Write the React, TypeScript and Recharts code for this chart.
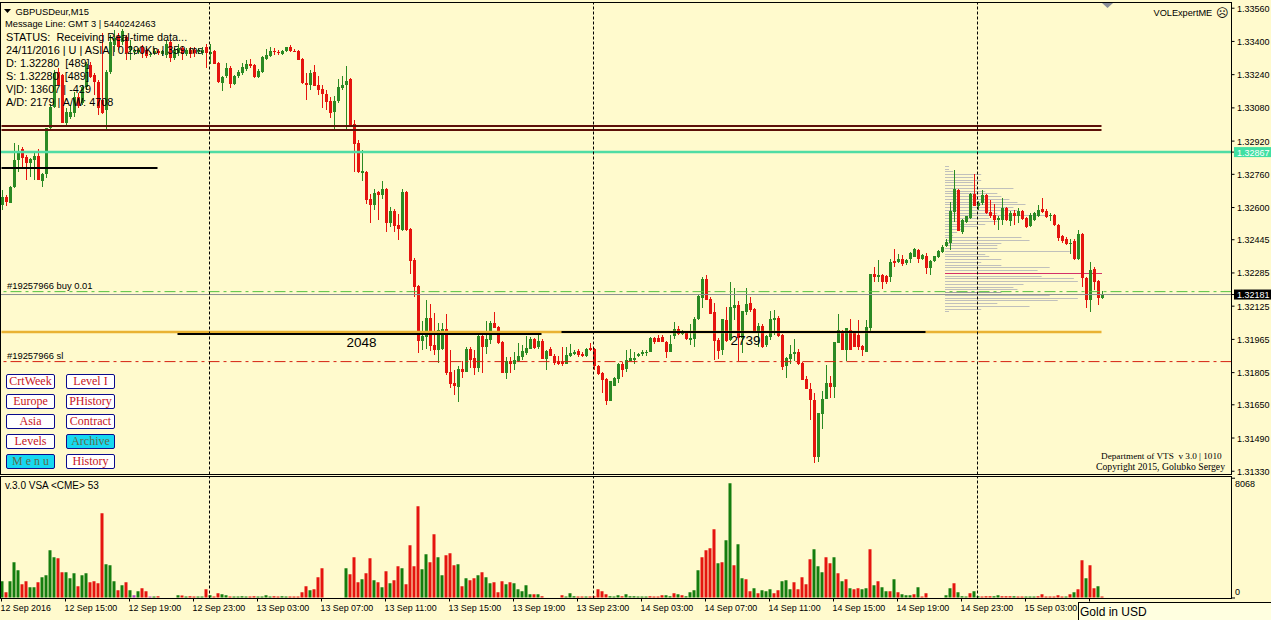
import { ComposedChart, BarChart, Bar, XAxis, YAxis, Cell, ReferenceLine } from 'recharts'

// prices are in points above 1.30000, one row of ten bars per line
const opens = [
  2611,2650,2621,2698,2828,2881,2842,2813,2828,2847,
  2727,2761,2982,3083,3252,3237,3006,3035,3054,3131,
  3102,3179,3285,3237,3204,3117,3069,3252,3382,3425,
  3396,3420,3358,3348,3348,3372,3358,3334,3343,3353,
  3339,3334,3396,3320,3343,3367,3339,3358,3358,3348,
  3343,3372,3339,3353,3295,3199,3233,3271,3194,3233,
  3247,3266,3291,3285,3228,3252,3314,3329,3353,3348,
  3339,3353,3372,3353,3353,3314,3199,3189,3252,3189,
  3170,3146,3112,3059,3112,3175,3189,3218,3002,2910,
  2766,2770,2640,2611,2674,2659,2689,2525,2582,2515,
  2491,2674,2496,2346,2221,1956,1975,2067,1937,1913,
  1918,2014,1807,1754,1735,1822,1807,1918,1875,1827,
  1980,1928,1961,2043,2024,1952,1803,1860,1846,1860,
  1879,1899,1918,1966,1928,1956,1870,1918,1884,1860,
  1855,1846,1884,1894,1908,1894,1884,1923,1918,1836,
  1803,1773,1667,1740,1773,1846,1822,1860,1865,1884,
  1894,1899,1904,1970,1970,1975,1952,1904,1980,2014,
  1990,1995,1961,1966,2062,2163,2255,2159,2096,1961,
  1913,2057,1961,2115,2129,1970,2096,2139,2110,2000,
  2028,1937,1975,2057,2067,1985,1836,1870,1894,1904,
  1850,1773,1725,1672,1397,1605,1677,1754,1735,1947,
  2004,1913,2009,2000,1985,1932,1904,2019,2279,2264,
  2274,2269,2264,2342,2337,2351,2332,2351,2361,2395,
  2351,2366,2308,2342,2361,2385,2414,2428,2578,2684,
  2481,2529,2549,2664,2607,2621,2659,2578,2563,2539,
  2539,2597,2534,2573,2558,2582,2549,2510,2539,2558,
  2592,2582,2558,2563,2515,2462,2448,2423,2438,2351,
  2472,2259,2154,2303,2245,2163,
]
const highs = [
  2684,2660,2703,2910,2900,2890,2852,2838,2862,2881,
  2766,2982,3097,3262,3271,3242,3078,3093,3155,3151,
  3189,3300,3300,3247,3214,3440,3262,3430,3454,3440,
  3459,3430,3406,3363,3367,3382,3367,3348,3367,3363,
  3358,3406,3401,3367,3387,3377,3367,3372,3372,3367,
  3372,3387,3387,3358,3300,3233,3295,3281,3237,3262,
  3295,3310,3314,3291,3266,3329,3363,3372,3367,3358,
  3358,3372,3382,3363,3358,3320,3247,3262,3285,3233,
  3189,3165,3131,3136,3218,3233,3281,3223,3021,2924,
  2876,2775,2664,2689,2679,2727,2693,2602,2592,2568,
  2689,2679,2501,2356,2226,2052,2154,2134,2091,2043,
  2043,2086,1913,1817,1836,1860,1928,1928,1913,1985,
  1985,2052,2052,2096,2028,1956,1879,1879,1904,1947,
  1937,1980,1975,1970,1990,1966,1913,1928,1894,1884,
  1928,1928,1942,1913,1918,1904,1923,1947,1923,1841,
  1807,1778,1763,1783,1850,1855,1913,1918,1904,1899,
  1913,1913,1975,1975,1985,1985,1956,1985,2048,2028,
  2009,2004,2038,2072,2183,2264,2274,2168,2139,1970,
  2062,2120,2240,2211,2149,2101,2211,2168,2115,2043,
  2038,1985,2101,2106,2076,1990,1879,1937,1966,1918,
  1855,1788,1754,1706,1610,1715,1841,1788,1952,2086,
  2009,2019,2062,2004,2057,1937,2057,2279,2312,2346,
  2279,2274,2351,2400,2375,2370,2351,2385,2404,2400,
  2375,2380,2346,2366,2395,2419,2448,2626,2780,2689,
  2544,2558,2669,2761,2631,2684,2664,2635,2616,2558,
  2645,2602,2582,2587,2597,2587,2553,2573,2578,2611,
  2645,2592,2573,2568,2520,2467,2457,2448,2448,2491,
  2476,2264,2337,2312,2250,2197,
]
const lows = [
  2587,2606,2621,2693,2770,2790,2732,2746,2732,2732,
  2698,2741,2973,3078,3189,3006,2992,3025,3035,3078,
  3093,3165,3223,3141,3045,3049,2973,3242,3348,3358,
  3382,3310,3310,3334,3339,3320,3320,3324,3334,3334,
  3329,3320,3300,3310,3329,3310,3329,3320,3324,3339,
  3334,3271,3291,3291,3199,3160,3223,3175,3189,3223,
  3237,3257,3271,3223,3223,3247,3310,3324,3334,3334,
  3334,3348,3348,3348,3310,3194,3117,3165,3184,3141,
  3078,3069,3030,2973,3102,3165,2968,2987,2770,2766,
  2727,2616,2525,2587,2539,2640,2481,2505,2481,2443,
  2486,2486,2279,2168,1899,1913,1918,1908,1889,1850,
  1913,1793,1730,1696,1663,1778,1807,1827,1793,1807,
  1803,1894,1942,2019,1942,1803,1774,1803,1817,1855,
  1865,1889,1918,1918,1918,1870,1817,1884,1841,1841,
  1836,1846,1879,1889,1879,1879,1879,1908,1817,1793,
  1706,1648,1667,1740,1754,1783,1807,1860,1846,1879,
  1884,1884,1904,1942,1952,1952,1875,1904,1966,1985,
  1985,1961,1937,1928,2057,2115,2154,2086,1865,1870,
  1889,1952,1956,2057,1860,1899,2081,2096,1995,1928,
  1923,1928,1961,1985,1975,1817,1778,1846,1860,1841,
  1768,1725,1576,1369,1373,1533,1677,1682,1682,1947,
  1913,1860,1913,1928,1913,1884,1904,1995,2240,2240,
  2207,2231,2240,2312,2332,2317,2322,2332,2361,2332,
  2346,2279,2274,2337,2356,2380,2409,2395,2529,2486,
  2472,2525,2544,2607,2587,2611,2568,2549,2515,2491,
  2515,2534,2510,2515,2525,2539,2500,2505,2534,2553,
  2573,2549,2534,2510,2438,2428,2419,2375,2346,2346,
  2216,2115,2096,2202,2129,2159,
]
const closes = [
  2650,2625,2698,2828,2866,2838,2813,2833,2847,2732,
  2761,2982,3083,3247,3189,3006,3059,3059,3131,3088,
  3179,3290,3228,3204,3078,3054,3252,3396,3416,3372,
  3449,3343,3377,3358,3358,3343,3329,3339,3353,3343,
  3353,3387,3320,3358,3367,3339,3358,3339,3343,3358,
  3358,3343,3348,3291,3204,3228,3271,3194,3233,3252,
  3276,3291,3281,3228,3257,3324,3334,3353,3348,3343,
  3353,3372,3353,3348,3310,3199,3189,3247,3184,3165,
  3146,3107,3054,3112,3179,3189,3209,2997,2905,2770,
  2775,2635,2611,2669,2659,2689,2525,2582,2510,2496,
  2674,2491,2342,2216,1956,1980,2067,1932,1913,2009,
  2014,1803,1749,1740,1822,1807,1918,1865,1827,1980,
  1928,1966,2043,2019,1947,1803,1860,1846,1865,1884,
  1908,1923,1966,1923,1956,1870,1908,1884,1850,1846,
  1846,1889,1899,1904,1889,1884,1918,1913,1836,1798,
  1768,1667,1763,1778,1846,1817,1865,1875,1875,1894,
  1904,1904,1970,1952,1952,1952,1904,1942,2014,1990,
  2004,1966,1970,2062,2173,2255,2154,2086,1956,1908,
  2062,1956,2120,2129,1970,2101,2134,2106,2000,2028,
  1928,1980,2062,2067,1980,1831,1875,1894,1904,1846,
  1768,1725,1672,1397,1610,1677,1754,1735,1952,2009,
  1913,2019,1913,1928,1928,1913,2024,2279,2264,2274,
  2240,2240,2337,2332,2351,2327,2346,2380,2400,2351,
  2370,2308,2342,2366,2390,2409,2433,2582,2689,2486,
  2539,2558,2664,2607,2621,2659,2573,2558,2539,2549,
  2597,2539,2573,2558,2582,2544,2505,2563,2573,2587,
  2578,2553,2563,2515,2452,2438,2423,2428,2351,2472,
  2259,2154,2298,2240,2163,2183,
]

const volumes = [
  1152,376,1152,2491,1927,940,1152,729,729,1081,1434,1575,3337,2844,2773,1786,1786,1363,1716,799,
  1575,1716,1081,1152,1011,5946,2350,2280,1152,517,870,1081,517,165,447,658,447,71,71,94,
  0,0,0,0,165,141,71,94,71,71,71,588,165,71,306,235,165,71,71,71,
  94,71,71,94,71,71,165,71,94,71,94,71,71,71,71,376,799,517,588,1434,
  2068,0,0,0,0,0,2068,1645,2844,1081,1293,1716,2773,1222,1081,729,1857,1011,1222,2209,
  2068,940,3690,2209,6439,1998,3055,2491,4465,2844,1575,2985,3126,2280,2350,799,1363,1222,1363,1575,
  1786,1434,1011,1081,376,1152,940,1081,1011,588,447,870,235,235,235,94,0,0,0,0,
  165,71,306,94,71,71,71,71,94,588,447,235,94,71,165,94,235,94,94,71,
  71,71,94,71,71,165,165,94,306,235,165,94,376,517,1927,2844,3337,3478,4818,2421,
  2491,4042,8068,2280,3760,1363,1293,447,658,306,517,447,588,306,517,1152,1222,588,1081,588,
  1434,940,2703,3408,2209,1786,2844,2421,2844,1716,1152,1293,658,588,658,588,658,3408,870,1152,
  729,447,447,1293,376,235,165,165,235,729,71,306,0,0,0,0,165,658,1011,376,
  94,71,306,447,94,71,94,94,94,165,94,94,94,94,71,71,71,71,71,94,
  235,71,71,71,165,71,71,235,376,588,2632,1363,2280,658,799,71,
]
// g up, r down, p small purple bars, x no volume
const volumeSides = (
  'grgggrrggrggggrrgggrggrrrrgggrgrgpgrrpgr' +
  'xxxx' +
  'grgrrggrgrrggrggggrrggggrrggrrrrrgrrr' +
  'xxxxx' +
  'grrrgrrgrgrgrrgrrrr' +
  'ggrrggrrrgrgrrgrggrrrgrgggggrgr' +
  'xxxx' +
  'rgggrrgrrrrrgggrggggggrrrrggrgrggggrrrrgrggrggrrgrgggrrgggrrrrrgggrrg' +
  'rgrgrrggrgrggrgrgggrgr' +
  'xxxx' +
  'gggrgggrggrrrggrrrgrrgggrrrrrrrgrgrrgrrg'
).split('')

const priceTicks = [3560,3400,3240,3080,2920,2760,2600,2445,2285,2125,1965,1805,1650,1490,1330]
const askLevel = 2867
const bidLevel = 2181
const buyLevel = 2195
const stopLevel = 1858
const brownLevels = [2993,2974]
const supportLevel = 2001
const sessionLevel = 2790
const sessionBars = [[44,135,1991],[140,231,2001]]
const dayBreaks = [52,148,244]

const timeTicks = [0,16,32,48,64,80,96,112,128,144,160,176,192,208,224,240,256,272]
const timeLabels = [
  '12 Sep 2016','12 Sep 15:00','12 Sep 19:00','12 Sep 23:00','13 Sep 03:00','13 Sep 07:00',
  '13 Sep 11:00','13 Sep 15:00','13 Sep 19:00','13 Sep 23:00','14 Sep 03:00','14 Sep 07:00',
  '14 Sep 11:00','14 Sep 15:00','14 Sep 19:00','14 Sep 23:00','15 Sep 03:00','',
]

const profileVolumes = [
  4,4,8,36,28,36,28,32,68,40,52,56,64,72,80,68,72,52,100,44,52,40,32,16,12,8,76,84,56,52,52,124,
  40,44,56,36,56,104,92,156,96,128,132,78,68,72,56,104,132,112,52,84,36,4,
]
const profilePeak = 39
const profileShaded = 46

const infoLines = [
  { text: 'Message Line: GMT 3 | 5440242463', left: 5, top: 23, size: 9.3 },
  { text: 'STATUS:  Receiving Real-time data...', left: 6, top: 36, size: 10.9 },
  { text: '24/11/2016 | U | ASIA | 0.290Kb | 359 ms', left: 6, top: 49, size: 10.9 },
  { text: 'D: 1.32280  [489]', left: 6, top: 62, size: 10.9 },
  { text: 'S: 1.32280  [489]', left: 6, top: 75, size: 10.9 },
  { text: 'V|D: 13607 | -429', left: 6, top: 88, size: 10.9 },
  { text: 'A/D: 2179 | A/W: 4708', left: 6, top: 101, size: 10.9 },
]
const menuButtons = [
  { text: 'CrtWeek', left: 6, top: 374 },
  { text: 'Level I', left: 66, top: 374 },
  { text: 'Europe', left: 6, top: 394 },
  { text: 'PHistory', left: 66, top: 394 },
  { text: 'Asia', left: 6, top: 414 },
  { text: 'Contract', left: 66, top: 414 },
  { text: 'Levels', left: 6, top: 434 },
  { text: 'Archive', left: 66, top: 434, active: true },
  { text: 'M e n u', left: 6, top: 454, active: true },
  { text: 'History', left: 66, top: 454 },
]

const SLOTS = 308
const rows = Array.from({ length: SLOTS }, (_, slot) => {
  if (slot >= opens.length) return { slot }
  return {
    slot,
    open: opens[slot],
    close: closes[slot],
    span: [lows[slot], highs[slot]],
    volume: volumes[slot],
  }
})

const UP = '#2b8a24'
const DOWN = '#e5140f'
const VOL_UP = '#147d0e'
const sideColor = { g: VOL_UP, r: DOWN, p: '#b03cc0', x: DOWN }
const AXIS_FONT = '"Liberation Sans", sans-serif'

const fmtPrice = (v: number) => (1.3 + v / 100000).toFixed(5)

function Candle(props: any) {
  const { x, y, width, height, payload } = props
  if (!payload || !payload.span) return null
  const [low, high] = payload.span
  const perPoint = Math.abs(height) / (high - low)
  const py = (v: number) => Math.round(y + (high - v) * perPoint)
  const left = Math.round(x)
  const color = payload.close >= payload.open ? UP : DOWN
  const top = py(Math.max(payload.open, payload.close))
  const bottom = py(Math.min(payload.open, payload.close))
  return (
    <g>
      <rect x={left + 1} y={py(high)} width={1} height={Math.max(1, py(low) - py(high))} fill={color} />
      <rect x={left} y={top} width={width} height={Math.max(1, bottom - top)} fill={color} />
    </g>
  )
}

// single pixel row, so the profile stays crisp at any row spacing
function ProfileRow({ x, y, width, payload }: any) {
  const level = payload ? payload.level : -1
  const fill = level === profilePeak ? '#d4316a' : level === profileShaded ? '#a4a4a4' : '#c0c0bc'
  return <rect x={Math.round(x)} y={Math.round(y)} width={width} height={1} fill={fill} />
}

function PriceTick({ y, payload }: any) {
  const v = payload.value
  const isAsk = v === askLevel
  const isBid = v === bidLevel
  return (
    <g>
      {(isAsk || isBid) && (
        <rect x={1234} y={y - 5} width={37} height={10} fill={isAsk ? '#3fe0a2' : '#000'} />
      )}
      <text x={1237} y={y} dy={3.5} fontSize={9} fontFamily={AXIS_FONT} fill={isAsk || isBid ? '#fff' : '#000'}>
        {fmtPrice(v)}
      </text>
    </g>
  )
}

function VolumeTick({ y, payload }: any) {
  const isTop = payload.value > 0
  return (
    <g>
      <line x1={1232} x2={1235} y1={isTop ? y - 5 : y + 0.5} y2={isTop ? y - 5 : y + 0.5} stroke="#000" />
      <text x={1235} y={isTop ? y : y - 6} dy={3.5} fontSize={9} fontFamily={AXIS_FONT} fill="#000">
        {payload.value}
      </text>
    </g>
  )
}

function TimeTick({ x, y, payload }: any) {
  const at = timeTicks.indexOf(payload.value)
  return (
    <text x={x - 1} y={y + 7.5} fontSize={8.9} fontFamily={AXIS_FONT} fill="#000">
      {timeLabels[at]}
    </text>
  )
}

function Note({ text, left, top, size = 10, font = AXIS_FONT, weight = 400 }: any) {
  return (
    <div style={{
      position: 'absolute', left, top: top - 7, height: 16, lineHeight: '16px',
      fontSize: size, fontFamily: font, fontWeight: weight, whiteSpace: 'pre', color: '#000',
    }}>
      {text}
    </div>
  )
}

export default function App() {
  return (
    <div style={{ position: 'absolute', left: 0, top: 0, width: 1271, height: 620, background: '#FFFACD', overflow: 'hidden' }}>
      {/* Volume profile sits behind the candles */}
      <div style={{ position: 'absolute', left: 945, top: 165, width: 157, height: 148 }}>
        <BarChart width={157} height={148} data={profileVolumes.map((v, i) => ({ level: i, v }))} layout="vertical"
          margin={{ top: 0, right: 0, left: 0, bottom: 0 }} barCategoryGap={0}>
          <XAxis type="number" domain={[0, 156]} hide />
          <YAxis type="category" dataKey="level" hide />
          <Bar dataKey="v" barSize={1} shape={<ProfileRow />} isAnimationActive={false} />
        </BarChart>
      </div>

      <div style={{ position: 'absolute', left: 0, top: 0 }}>
        <ComposedChart width={1271} height={490} data={rows} margin={{ top: 2.5, right: 0, left: -0.5, bottom: 15.5 }}>
          <XAxis dataKey="slot" hide />
          <YAxis
            orientation="right"
            width={39.5}
            domain={[1314.3, 3587.5]}
            allowDataOverflow
            ticks={[...priceTicks, askLevel, bidLevel]}
            interval={0}
            tick={<PriceTick />}
            tickSize={3}
            tickLine={{ stroke: '#000' }}
            axisLine={{ stroke: '#000' }}
          />
          <Bar dataKey="span" barSize={3} shape={<Candle />} isAnimationActive={false} />

          <ReferenceLine segment={[{ x: 0, y: supportLevel }, { x: 275, y: supportLevel }]} stroke="#e9b233" strokeWidth={2.5} />
          {sessionBars.map(([from, to, level]) => (
            <ReferenceLine key={from} segment={[{ x: from, y: level }, { x: to, y: level }]} stroke="#000" strokeWidth={2} />
          ))}
          <ReferenceLine segment={[{ x: 0, y: sessionLevel }, { x: 39, y: sessionLevel }]} stroke="#000" strokeWidth={2} />
          {brownLevels.map(level => (
            <ReferenceLine key={level} segment={[{ x: 0, y: level }, { x: 275, y: level }]} stroke="#5c0f08" strokeWidth={2} />
          ))}
          <ReferenceLine y={askLevel} stroke="#4fdca4" strokeWidth={2.5} />
          <ReferenceLine y={buyLevel} stroke="#55c040" strokeDasharray="11 4 3 4" />
          <ReferenceLine y={bidLevel} stroke="#8c9090" />
          <ReferenceLine y={stopLevel} stroke="#d4200f" strokeDasharray="11 4 3 4" />
          {dayBreaks.map(slot => (
            <ReferenceLine key={slot} x={slot} stroke="#000" strokeDasharray="3 2" />
          ))}
        </ComposedChart>
      </div>

      <div style={{ position: 'absolute', left: 0, top: 0 }}>
        <ComposedChart width={1271} height={620} data={rows} margin={{ top: 476.5, right: 0, left: -0.5, bottom: 0 }}>
          <XAxis
            dataKey="slot"
            height={21.5}
            ticks={timeTicks}
            interval={0}
            tick={<TimeTick />}
            tickSize={3}
            tickLine={{ stroke: '#000' }}
            axisLine={{ stroke: '#000' }}
          />
          <YAxis
            orientation="right"
            width={39.5}
            domain={[-71, 8543]}
            allowDataOverflow
            ticks={[0, 8068]}
            interval={0}
            tick={<VolumeTick />}
            tickLine={false}
            axisLine={{ stroke: '#000' }}
          />
          <Bar dataKey="volume" barSize={3} isAnimationActive={false}>
            {rows.map((_, i) => (
              <Cell key={i} fill={sideColor[volumeSides[i] as keyof typeof sideColor] || DOWN} />
            ))}
          </Bar>
          {dayBreaks.map(slot => (
            <ReferenceLine key={slot} x={slot} stroke="#000" strokeDasharray="3 2" />
          ))}
        </ComposedChart>
      </div>

      {/* Panel frames */}
      <div style={{ position: 'absolute', left: 0, top: 2, width: 1232, height: 473, boxSizing: 'border-box', border: '1px solid #000' }} />
      <div style={{ position: 'absolute', left: 0, top: 476, width: 1232, height: 123, boxSizing: 'border-box', border: '1px solid #000' }} />

      <svg width={120} height={14} style={{ position: 'absolute', left: 0, top: 4 }}>
        <polygon points="4,5 11,5 7.5,9" fill="#000" />
      </svg>
      <svg width={14} height={10} style={{ position: 'absolute', left: 1100, top: 2 }}>
        <polygon points="2,1 13,1 7.5,6" fill="#8a8f9a" />
      </svg>
      <Note text="GBPUSDeur,M15" left={15.5} top={10.5} size={9.4} />
      {infoLines.map(l => <Note key={l.text} {...l} />)}

      <Note text="#19257966 buy 0.01" left={7} top={285} size={9.4} />
      <Note text="#19257966 sl" left={7} top={355} size={9.4} />
      <Note text="2048" left={346.5} top={342} size={13.5} />
      <Note text="2739" left={730.5} top={340} size={13.5} />
      <Note text="VOLExpertME" left={1153.5} top={11.5} size={9.2} />
      <Note text="☹" left={1216} top={11.5} size={12} font='"DejaVu Sans", sans-serif' />
      <Note text="Department of VTS  v 3.0 | 1010" left={1101} top={455} size={9.2} font='"Liberation Serif", serif' />
      <Note text="Copyright 2015, Golubko Sergey" left={1096} top={466} size={9.7} font='"Liberation Serif", serif' />
      <Note text="v.3.0 VSA <CME> 53" left={5} top={485} size={10} />

      {menuButtons.map(b => (
        <div key={b.text} style={{
          position: 'absolute', left: b.left, top: b.top, width: 49, height: 15, boxSizing: 'border-box',
          border: '1px solid #0a0a8c', borderRadius: 2, background: b.active ? '#16d8f0' : '#fff',
          color: b.active ? '#5f6b4a' : '#c8141c', textAlign: 'center', lineHeight: '13px',
          fontFamily: '"Liberation Serif", serif', fontSize: 12, whiteSpace: 'pre',
        }}>
          {b.text}
        </div>
      ))}

      <div style={{
        position: 'absolute', left: 1078, top: 602, width: 193, height: 18, boxSizing: 'border-box',
        borderLeft: '1px solid #000', borderTop: '1px solid #000', background: '#FFFFE0',
        fontFamily: AXIS_FONT, fontSize: 12, lineHeight: '19px', paddingLeft: 1, color: '#000',
      }}>
        Gold in USD
      </div>
    </div>
  )
}
